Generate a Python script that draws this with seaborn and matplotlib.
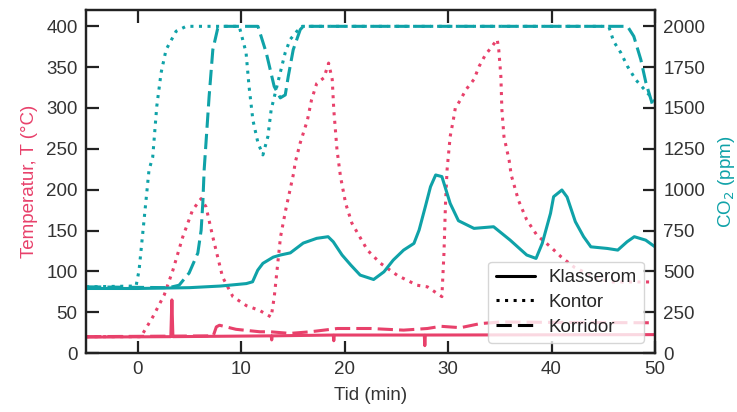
import matplotlib
matplotlib.use("Agg")
import matplotlib.pyplot as plt
import seaborn as sb
from matplotlib.lines import Line2D

# --- data ---
# CO2, Kontor (dotted)
t_kontor_co2 = [-5, -0.16, 0.13, 0.61, 1.09, 1.45, 1.84, 2.26, 2.74, 3.71, 4.68, 9.81, 10.47, 10.76,
                11.13, 11.62, 12.1, 12.58, 12.9, 13.77, 14.26, 14.74, 15.39, 15.88, 45.53, 46.0,
                46.69, 47.34, 48.14, 50]
co2_kontor = [405, 410, 507, 813, 1120, 1200, 1510, 1716, 1857, 1970, 2000, 2000, 1840, 1632,
              1427, 1287, 1213, 1325, 1490, 1715, 1840, 1920, 1970, 2000, 2000, 1908,
              1839, 1755, 1673, 1540]

# CO2, Korridor (dashed)
t_korridor_co2 = [-5, 3.0, 4.0, 4.97, 5.81, 6.13, 6.29, 6.42, 6.9, 7.26, 7.74, 7.97, 11.62, 12.42,
                  13.19, 13.78, 14.26, 14.55, 15.03, 15.71, 16.0, 47.34, 47.95, 48.63, 49.12,
                  49.76, 50]
co2_korridor = [405, 400, 415, 490, 612, 752, 917, 1120, 1570, 1857, 1990, 2000, 2000, 1839,
                1632, 1562, 1580, 1693, 1857, 1980, 2000, 2000, 1939, 1796, 1655,
                1520, 1500]

# CO2, Klasserom (solid)
t_klasse_co2 = [-5, 0, 5, 8, 10.5, 11.1, 11.6, 12.1, 13.1, 13.8, 14.75, 16.0, 17.3, 18.4, 18.9,
                19.75, 20.6, 21.5, 22.8, 23.8, 24.7, 25.7, 26.7, 27.2, 27.8, 28.3, 28.8, 29.4,
                30.2, 31.0, 32.5, 34.4, 36.0, 37.6, 38.5, 39.1, 39.9, 40.2, 41.0, 41.5, 42.3,
                43.1, 43.8, 45.4, 46.4, 47.3, 48.0, 49.1, 50]
co2_klasse = [395, 395, 400, 410, 425, 436, 507, 549, 587, 600, 613, 673, 702, 712, 681,
              600, 538, 477, 450, 497, 569, 630, 671, 753, 896, 1018, 1090, 1080,
              916, 810, 763, 773, 691, 600, 579, 671, 855, 957, 998, 955, 804,
              712, 650, 640, 630, 681, 712, 691, 650]

# Temperature, Kontor (dotted)
t_kontor_temp = [-5, 0.4, 0.5, 1.45, 2.56, 3.39, 4.35, 5.3, 6.12, 6.6, 7.26, 8.2, 9.2, 10.5, 11.8,
                 12.9, 13.2, 13.8, 14.3, 15.1, 15.2, 15.7, 16.4, 16.8, 17.3, 18.0, 18.45, 18.8,
                 18.95, 19.26, 19.6, 20.1, 20.7, 22.2, 23.45, 25.1, 27.0, 28.0, 29.4, 29.6,
                 29.75, 29.9, 30.2, 30.5, 30.7, 31.2, 31.7, 32.5, 33.0, 33.6, 34.1, 34.75,
                 34.9, 35.1, 35.2, 35.4, 35.9, 36.1, 36.8, 37.6, 38.6, 39.9, 40.9, 42.2,
                 44.1, 45.7, 50]
temp_kontor = [20, 20, 24, 44, 71, 101, 142, 175, 189, 179, 142, 93, 69, 58, 52,
               44, 69, 142, 175, 222, 232, 257, 285, 310, 330, 337, 355, 335,
               298, 249, 216, 183, 159, 126, 110, 95, 83, 81, 69, 122,
               183, 224, 265, 285, 300, 310, 322, 335, 351, 365, 373, 384,
               371, 339, 298, 265, 236, 218, 187, 163, 144, 130, 118, 105,
               93, 87, 87]

# Temperature, Klasserom (solid)
t_klasse_temp = [-5, 3.2, 3.3, 3.4, 8, 12.9, 12.95, 13.0, 18.9, 18.95, 19.0, 27.7, 27.75, 27.8, 50]
temp_klasse = [19.5, 20, 65, 20, 20.5, 21, 16, 21, 22, 15, 22, 22, 9, 22, 22.5]

# Temperature, Korridor (dashed)
t_korridor_temp = [-5, 7.3, 7.6, 7.9, 9.5, 11.8, 12.8, 14.7, 16.7, 19.3, 22.5, 25.7, 28.0, 29.3,
                   31.2, 33.1, 35.1, 40, 50]
temp_korridor = [20, 21, 32, 34, 29, 26, 26, 24, 26, 30, 30, 28, 30, 32.7,
                 31, 36, 38, 37.5, 37]

legend_labels = ["Klasserom", "Kontor", "Korridor"]

PINK = "#e8416b"
TEAL = "#0fa2a8"
DOT = (0, (1, 1.8))
DASH = (0, (5, 2))
FS = 13.5

sb.set_style("ticks")
plt.rcParams["font.family"] = ["Liberation Sans", "DejaVu Sans"]
plt.rcParams["font.size"] = FS

fig = plt.figure(figsize=(7.37, 4.12), dpi=100)
ax = fig.add_axes([86 / 737, 1 - 353 / 412, 569 / 737, 343 / 412])
ax2 = ax.twinx()

lw = 2.2
sb.lineplot(x=t_klasse_temp, y=temp_klasse, ax=ax, color=PINK, lw=lw, estimator=None, sort=False)
sb.lineplot(x=t_korridor_temp, y=temp_korridor, ax=ax, color=PINK, lw=lw, linestyle=DASH,
            estimator=None, sort=False)
sb.lineplot(x=t_kontor_temp, y=temp_kontor, ax=ax, color=PINK, lw=lw, linestyle=DOT,
            estimator=None, sort=False)

sb.lineplot(x=t_klasse_co2, y=co2_klasse, ax=ax2, color=TEAL, lw=lw, estimator=None, sort=False)
sb.lineplot(x=t_korridor_co2, y=co2_korridor, ax=ax2, color=TEAL, lw=lw, linestyle=DASH,
            estimator=None, sort=False)
sb.lineplot(x=t_kontor_co2, y=co2_kontor, ax=ax2, color=TEAL, lw=lw, linestyle=DOT,
            estimator=None, sort=False)

ax.set_xlim(-5, 50)
ax.set_ylim(0, 420)
ax2.set_ylim(0, 2100)
ax.set_xticks([0, 10, 20, 30, 40, 50])
ax.set_yticks(range(0, 401, 50))
ax2.set_yticks(range(0, 2001, 250))

for a in (ax, ax2):
    for s in a.spines.values():
        s.set_linewidth(1.6)
        s.set_color("#222222")
ax.tick_params(axis="both", direction="in", length=9, width=1.6, colors="#222222",
               labelcolor="#333333", labelsize=FS, pad=6)
ax.tick_params(axis="x", top=True)
ax.tick_params(axis="y", right=False)
ax2.tick_params(axis="y", direction="in", length=9, width=1.6, colors="#222222",
                labelcolor="#333333", labelsize=FS, pad=6)

ax.set_xlabel("Tid (min)", fontsize=FS, color="#333333", labelpad=6)
ax.set_ylabel("Temperatur, T (°C)", fontsize=FS, color=PINK, labelpad=6)
ax2.set_ylabel("CO$_2$ (ppm)", fontsize=FS, color=TEAL, labelpad=8)

handles = [Line2D([], [], color="black", lw=lw),
           Line2D([], [], color="black", lw=lw, linestyle=DOT),
           Line2D([], [], color="black", lw=lw, linestyle=DASH)]
leg = ax2.legend(handles, legend_labels, loc="lower right", bbox_to_anchor=(0.981, 0.029),
                 borderaxespad=0, fontsize=FS, handlelength=2.1, handletextpad=0.7,
                 labelspacing=0.4, frameon=True, framealpha=0.8, edgecolor="#cccccc",
                 fancybox=True)

fig.savefig("out.png", dpi=100)
